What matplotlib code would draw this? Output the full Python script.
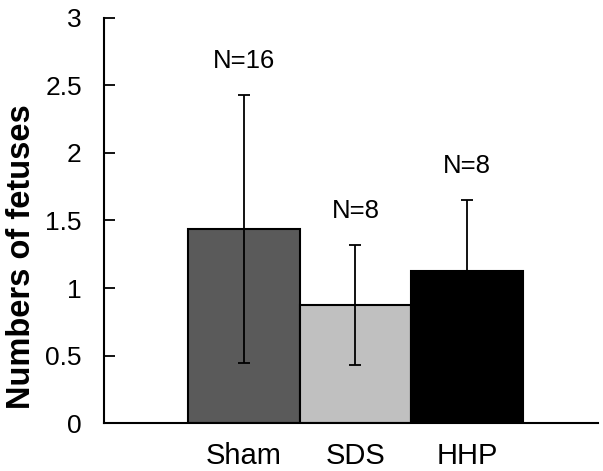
import matplotlib
matplotlib.use("Agg")
import matplotlib.pyplot as plt
import numpy as np

categories = ["Sham", "SDS", "HHP"]
means = [1.4375, 0.875, 1.125]
errors = [0.995, 0.445, 0.527]
n_labels = ["N=16", "N=8", "N=8"]
colors = ["#5a5a5a", "#c0c0c0", "#000000"]
yticks = [0, 0.5, 1, 1.5, 2, 2.5, 3]
ytick_labels = ["0", "0.5", "1", "1.5", "2", "2.5", "3"]

plt.rcParams['font.family'] = ['Liberation Sans', 'DejaVu Sans']

fig = plt.figure(figsize=(6.03, 4.71), dpi=100)
ax = fig.add_axes([0.1725, 0.1019, 0.8192, 0.8599])

x = np.arange(len(categories))
ax.bar(x, means, width=1.0, color=colors, edgecolor="black", linewidth=1.5, zorder=2)
ax.errorbar(x, means, yerr=errors, fmt="none", ecolor="black", elinewidth=1.3,
            capsize=4, capthick=1.3, zorder=3)

for xi, m, e, lab in zip(x, means, errors, n_labels):
    ax.text(xi, m + e + 0.2, lab, ha="center", va="baseline", fontsize=18.5)

ax.set_xlim(-1.25, 3.17)
ax.set_ylim(0, 3)
ax.set_yticks(yticks)
ax.set_yticklabels(ytick_labels, fontsize=19)
ax.set_xticks(x)
ax.set_xticklabels(categories, fontsize=21)
ax.tick_params(axis="y", direction="in", length=8, width=1.3, pad=16)
ax.tick_params(axis="x", length=0, pad=14)

for s in ["top", "right"]:
    ax.spines[s].set_visible(False)
for s in ["left", "bottom"]:
    ax.spines[s].set_linewidth(1.5)

ax.set_ylabel("Numbers of fetuses", fontsize=23.5, fontweight="bold", va="center", ha="center")
ax.yaxis.set_label_coords(-0.168, 0.412)

fig.savefig("out.png", dpi=100)
